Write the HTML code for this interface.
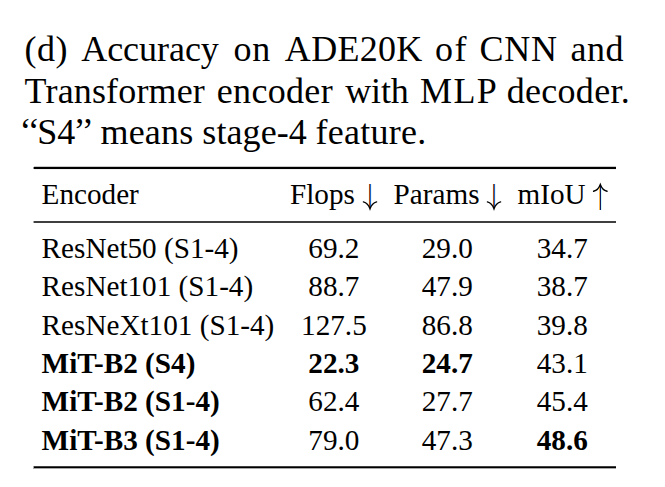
<!DOCTYPE html>
<html><head><meta charset="utf-8">
<style>
html,body{margin:0;padding:0;background:#fff;}
body{width:665px;height:487px;position:relative;overflow:hidden;font-family:"Liberation Serif",serif;color:#000;}
.w{position:absolute;font-size:36px;line-height:36px;white-space:nowrap;}
.t{position:absolute;font-size:29.2px;line-height:30px;white-space:nowrap;}
.c{text-align:center;width:120px;}
.b{font-weight:bold;}
.rule{position:absolute;left:34px;width:582px;background:#000;}
svg{position:absolute;left:0;top:0;}
.st{position:absolute;width:1px;}
.rl{position:absolute;left:33px;width:1px;}
</style></head><body>
<span class="w" style="left:24.60px;top:31px;letter-spacing:0.45px">(d)</span>
<span class="w" style="left:81.16px;top:31px;letter-spacing:-0.029px">Accuracy</span>
<span class="w" style="left:233.51px;top:31px;letter-spacing:0.8px">on</span>
<span class="w" style="left:284.86px;top:31px;letter-spacing:0.3px">ADE20K</span>
<span class="w" style="left:435.11px;top:31px;letter-spacing:1.3px">of</span>
<span class="w" style="left:479.58px;top:31px;letter-spacing:0.7px">CNN</span>
<span class="w" style="left:570.52px;top:31px;letter-spacing:0.45px">and</span>
<span class="w" style="left:24.62px;top:73px;letter-spacing:0.16px">Transformer</span>
<span class="w" style="left:216.75px;top:73px;letter-spacing:0.333px">encoder</span>
<span class="w" style="left:345.24px;top:73px;letter-spacing:-0.15px">with</span>
<span class="w" style="left:419.97px;top:73px;letter-spacing:1.4px">MLP</span>
<span class="w" style="left:506.83px;top:73px;letter-spacing:0.271px">decoder.</span>
<span class="w" style="left:19.47px;top:113.3px">‘</span>
<span class="w" style="left:27.77px;top:113.3px">‘</span>
<span class="w" style="left:37.13px;top:114px">S4</span>
<span class="w" style="left:73.46px;top:113.3px">’</span>
<span class="w" style="left:81.86px;top:113.3px">’</span>
<span class="w" style="left:100.46px;top:114px;letter-spacing:0.2px">means</span>
<span class="w" style="left:202.28px;top:114px;letter-spacing:0.108px">stage-4</span>
<span class="w" style="left:315.54px;top:114px;letter-spacing:0.257px">feature.</span>
<div class="rule" style="top:166px;height:4px;background:linear-gradient(to bottom,#c8c8c8 0 1px,#000 1px 3px,#f0f0f0 3px 4px)"></div>
<div class="rule" style="top:221px;height:2px;background:#3f3f3f"></div>
<div class="rule" style="top:466px;height:3px;background:linear-gradient(to bottom,#404040 0 1px,#000 1px 2px,#a8a8a8 2px 3px)"></div>
<div class="rl" style="top:167px;height:2px;background:#999"></div>
<div class="rl" style="top:221px;height:2px;background:#aaa"></div>
<div class="rl" style="top:466px;height:3px;background:#aaa"></div>
<div class="t" style="left:41.6px;top:179px">Encoder</div>
<div class="t" style="left:290.0px;top:179px">Flops</div>
<div class="t" style="left:393.6px;top:179px">Params</div>
<div class="t" style="left:517.5px;top:179px">mIoU</div>
<div class="t" style="left:41.6px;top:233px">ResNet50 (S1-4)</div>
<div class="t c" style="left:273.90px;top:233px">69.2</div>
<div class="t c" style="left:387.30px;top:233px">29.0</div>
<div class="t c" style="left:502.30px;top:233px">34.7</div>
<div class="t" style="left:41.6px;top:271px">ResNet101 (S1-4)</div>
<div class="t c" style="left:273.90px;top:271px">88.7</div>
<div class="t c" style="left:387.30px;top:271px">47.9</div>
<div class="t c" style="left:502.30px;top:271px">38.7</div>
<div class="t" style="left:41.6px;top:310px">ResNeXt101 (S1-4)</div>
<div class="t c" style="left:273.90px;top:310px">127.5</div>
<div class="t c" style="left:387.30px;top:310px">86.8</div>
<div class="t c" style="left:502.30px;top:310px">39.8</div>
<div class="t b" style="left:41.6px;top:348px">MiT-B2 (S4)</div>
<div class="t c b" style="left:273.90px;top:348px">22.3</div>
<div class="t c b" style="left:387.30px;top:348px">24.7</div>
<div class="t c" style="left:502.30px;top:348px">43.1</div>
<div class="t b" style="left:41.6px;top:386px">MiT-B2 (S1-4)</div>
<div class="t c" style="left:273.90px;top:386px">62.4</div>
<div class="t c" style="left:387.30px;top:386px">27.7</div>
<div class="t c" style="left:502.30px;top:386px">45.4</div>
<div class="t b" style="left:41.6px;top:425px">MiT-B3 (S1-4)</div>
<div class="t c" style="left:273.90px;top:425px">79.0</div>
<div class="t c" style="left:387.30px;top:425px">47.3</div>
<div class="t c b" style="left:502.30px;top:425px">48.6</div>
<div class="st" style="left:369px;top:184px;height:24px;background:rgb(172,72,24)"></div>
<div class="st" style="left:370px;top:184px;height:24px;background:rgb(28,100,200)"></div>
<div class="st" style="left:493px;top:184px;height:24px;background:rgb(172,72,24)"></div>
<div class="st" style="left:494px;top:184px;height:24px;background:rgb(28,100,200)"></div>
<div class="st" style="left:599px;top:186px;height:24px;background:rgb(248,185,85)"></div>
<div class="st" style="left:600px;top:186px;height:24px;background:rgb(16,26,96)"></div>
<div class="st" style="left:601px;top:186px;height:24px;background:rgb(200,250,255)"></div>
<div class="st" style="left:368px;top:184px;height:22px;background:rgb(255,248,222)"></div>
<div class="st" style="left:371px;top:184px;height:22px;background:rgb(222,244,255)"></div>
<div class="st" style="left:492px;top:184px;height:22px;background:rgb(255,248,222)"></div>
<div class="st" style="left:495px;top:184px;height:22px;background:rgb(222,244,255)"></div>
<svg width="665" height="487" viewBox="0 0 665 487" fill="none" stroke="#000">
<g stroke-width="1.4" stroke-linecap="round"><path d="M363.4 201.9 Q368 203 370 208.9 Q372 203 376.6 201.9"/><path d="M487.4 201.9 Q492 203 494 208.9 Q496 203 500.6 201.9"/><path d="M593.6 191.3 Q598.3 190.2 600.3 184.6 Q602.3 190.2 607 191.3"/></g>
</svg>
</body></html>
